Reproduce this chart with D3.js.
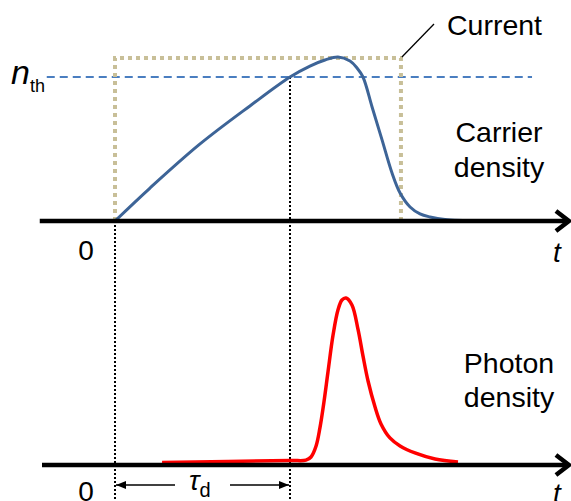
<!DOCTYPE html>
<html>
<head>
<meta charset="utf-8">
<script src="https://cdn.jsdelivr.net/npm/d3@7"></script>
<style>
  html, body { margin: 0; padding: 0; background: #fff; }
  text { font-family: "Liberation Sans", Arial, sans-serif; fill: #000; }
</style>
</head>
<body>
<div id="chart"></div>
<script>
// time in units of the turn-on delay (Td = 1)
const Td = 1;
const axisRange = [-0.43, 2.594];
const nthRange = [-0.39, 2.383];
const currentLevel = 1.132;
const currentOff = 1.634;

// carrier density, normalised to n_th
const carrierT = [0, 0.2, 0.486, 0.771, 1.0, 1.114, 1.2, 1.274, 1.343, 1.383, 1.417, 1.469, 1.526, 1.583, 1.629, 1.686, 1.743, 1.8, 1.886, 2.086];
const carrierN = [0, 0.229, 0.535, 0.799, 1.0, 1.076, 1.118, 1.139, 1.111, 1.063, 1.0, 0.792, 0.563, 0.333, 0.194, 0.097, 0.049, 0.028, 0.01, 0];

// photon density, normalised to peak
const photonT = [0.269, 1.0, 1.091, 1.12, 1.149, 1.171, 1.194, 1.217, 1.246, 1.274, 1.297, 1.32, 1.354, 1.389, 1.417, 1.446, 1.486, 1.52, 1.571, 1.629, 1.714, 1.829, 1.96];
const photonS = [0.015, 0.027, 0.029, 0.048, 0.114, 0.222, 0.377, 0.557, 0.778, 0.928, 0.988, 1.0, 0.958, 0.81, 0.653, 0.503, 0.347, 0.246, 0.162, 0.114, 0.072, 0.036, 0.018];

const width = 571, height = 501;

const svg = d3.select("#chart").append("svg")
    .attr("width", width)
    .attr("height", height);

const x = d3.scaleLinear().domain([0, Td]).range([115, 290]);
const yTop = d3.scaleLinear().domain([0, 1]).range([221, 77]);
const yBot = d3.scaleLinear().domain([0, 1]).range([465, 298]);

// vertical dotted guides
svg.append("line")
    .attr("x1", x(0)).attr("x2", x(0))
    .attr("y1", yTop(0)).attr("y2", height)
    .attr("stroke", "#000").attr("stroke-width", 2)
    .attr("stroke-dasharray", "2,2");
svg.append("line")
    .attr("x1", x(Td)).attr("x2", x(Td))
    .attr("y1", yTop(1)).attr("y2", height)
    .attr("stroke", "#000").attr("stroke-width", 2)
    .attr("stroke-dasharray", "2,2");

// n_th dashed line
svg.append("line")
    .attr("x1", x(nthRange[0])).attr("x2", x(nthRange[1]))
    .attr("y1", yTop(1)).attr("y2", yTop(1))
    .attr("stroke", "#4a7ec0").attr("stroke-width", 2)
    .attr("stroke-dasharray", "8,5");

// current pulse (dotted)
const currentPts = [[0, 0], [0, currentLevel], [currentOff, currentLevel], [currentOff, 0]];
svg.append("path")
    .attr("d", d3.line().x(d => x(d[0])).y(d => yTop(d[1]))(currentPts))
    .attr("fill", "none")
    .attr("stroke", "#c8bf98").attr("stroke-width", 4)
    .attr("stroke-dasharray", "4,4");

// leader line to "Current"
svg.append("line")
    .attr("x1", x(currentOff) + 1).attr("y1", yTop(currentLevel) - 1)
    .attr("x2", 434).attr("y2", 24)
    .attr("stroke", "#000").attr("stroke-width", 1.3);

// carrier density curve
const carrierLine = d3.line()
    .x((d, i) => x(carrierT[i]))
    .y(d => yTop(d))
    .curve(d3.curveCatmullRom.alpha(0.5));
svg.append("path")
    .attr("d", carrierLine(carrierN))
    .attr("fill", "none")
    .attr("stroke", "#3d6497").attr("stroke-width", 3);

// photon density curve
const photonLine = d3.line()
    .x((d, i) => x(photonT[i]))
    .y(d => yBot(d))
    .curve(d3.curveCatmullRom.alpha(0.5));
svg.append("path")
    .attr("d", photonLine(photonS))
    .attr("fill", "none")
    .attr("stroke", "#ff0000").attr("stroke-width", 3.5);

// time axes with open arrow heads
function drawAxis(yScale, x0) {
    const y0 = yScale(0);
    const xEnd = x(axisRange[1]);
    svg.append("line")
        .attr("x1", x0).attr("x2", xEnd - 2)
        .attr("y1", y0).attr("y2", y0)
        .attr("stroke", "#000").attr("stroke-width", 4.5);
    svg.append("path")
        .attr("d", `M${xEnd - 13},${y0 - 10} L${xEnd},${y0} L${xEnd - 13},${y0 + 10}`)
        .attr("fill", "none")
        .attr("stroke", "#000").attr("stroke-width", 4.5)
        .attr("stroke-linejoin", "miter");
}
drawAxis(yTop, x(axisRange[0]));
drawAxis(yBot, 42);

// Td arrows
svg.append("defs").append("marker")
    .attr("id", "head")
    .attr("viewBox", "0 0 10 10")
    .attr("refX", 10).attr("refY", 5)
    .attr("markerWidth", 10).attr("markerHeight", 10)
    .attr("markerUnits", "userSpaceOnUse")
    .attr("orient", "auto")
    .append("path")
    .attr("d", "M0,1 L10,5 L0,9 Z")
    .attr("fill", "#000");
svg.append("line")
    .attr("x1", 175).attr("x2", x(0) + 1)
    .attr("y1", 485).attr("y2", 485)
    .attr("stroke", "#000").attr("stroke-width", 1.5)
    .attr("marker-end", "url(#head)");
svg.append("line")
    .attr("x1", 230).attr("x2", x(Td) - 1)
    .attr("y1", 485).attr("y2", 485)
    .attr("stroke", "#000").attr("stroke-width", 1.5)
    .attr("marker-end", "url(#head)");

// labels
const label = (tx, ty, str, anchor, size, italic) => svg.append("text")
    .attr("x", tx).attr("y", ty)
    .attr("text-anchor", anchor || "start")
    .attr("font-size", size || 28)
    .attr("font-style", italic ? "italic" : "normal")
    .text(str);

label(447, 35, "Current", "start", 28.5);
label(499, 142, "Carrier", "middle", 28.5);
label(499, 177, "density", "middle", 28.5);
label(509, 373, "Photon", "middle", 28.5);
label(509, 407, "density", "middle", 28.5);
label(86, 260, "0", "middle", 28);
label(86, 501, "0", "middle", 28);
label(557, 262, "t", "middle", 28, true);
label(557, 503, "t", "middle", 28, true);

const nth = svg.append("text").attr("x", 11).attr("y", 84).attr("font-size", 34);
nth.append("tspan").attr("font-style", "italic").text("n");
nth.append("tspan").attr("font-size", 18).attr("dy", 8).text("th");

const tau = svg.append("text").attr("x", 189).attr("y", 490).attr("font-size", 28);
tau.append("tspan").attr("font-style", "italic").text("τ");
tau.append("tspan").attr("font-size", 20).attr("dy", 7).text("d");
</script>
</body>
</html>
